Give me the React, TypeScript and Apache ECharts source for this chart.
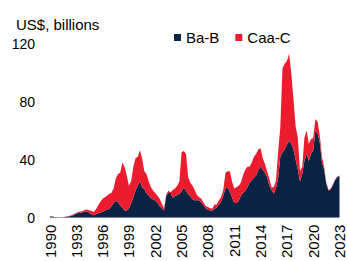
import React, { useEffect, useRef } from "react";
import * as echarts from "echarts";

const START_YEAR = 1990;
const END_YEAR = 2023;
const QUARTERS = ["Q1", "Q2", "Q3", "Q4"];

// Quarterly categories 1990 Q1 .. 2023 Q1
const categories: string[] = [];
for (let y = START_YEAR; y <= END_YEAR; y++) {
  for (const q of QUARTERS) {
    if (y === END_YEAR && q !== "Q1") break;
    categories.push(`${y} ${q}`);
  }
}

const seriesNames = ["Ba-B", "Caa-C"];

// US$ billions, quarterly
const baB: number[] = [
  0.8, 0.8, 0.4, 0.3, // 1990
  0.2, 0.2, 0.3, 0.4, // 1991
  0.7, 0.9, 1.3, 2.0, // 1992
  2.8, 3.2, 3.6, 3.7, // 1993
  4.3, 4.2, 3.2, 2.2, // 1994
  1.6, 2.5, 3.0, 3.5, // 1995
  4.0, 5.0, 5.5, 6.0, // 1996
  8.0, 10.0, 11.5, 11.0, // 1997
  8.5, 7.0, 5.0, 5.0, // 1998
  6.2, 10.0, 14.0, 18.7, // 1999
  22.0, 25.5, 21.0, 19.8, // 2000
  17.0, 15.3, 13.5, 12.5, // 2001
  11.8, 10.5, 8.0, 6.5, // 2002
  5.0, 15.0, 17.0, 17.0, // 2003
  13.5, 15.0, 15.5, 16.5, // 2004
  18.0, 21.0, 18.5, 16.0, // 2005
  15.0, 12.5, 12.0, 12.0, // 2006
  12.0, 10.5, 8.5, 6.5, // 2007
  5.5, 5.0, 5.0, 6.0, // 2008
  7.0, 9.0, 11.0, 15.0, // 2009
  20.0, 21.0, 18.0, 14.0, // 2010
  10.0, 10.0, 11.5, 15.0, // 2011
  17.0, 18.5, 21.0, 24.0, // 2012
  26.0, 27.5, 29.0, 33.0, // 2013
  35.0, 33.0, 31.0, 28.0, // 2014
  22.0, 19.0, 16.5, 20.0, // 2015
  27.0, 42.0, 45.0, 47.0, // 2016
  50.0, 53.0, 51.0, 47.0, // 2017
  40.0, 33.0, 25.0, 30.0, // 2018
  39.0, 44.0, 39.0, 44.0, // 2019
  46.0, 60.0, 58.0, 52.0, // 2020
  38.0, 33.0, 23.0, 18.5, // 2021
  19.5, 22.5, 26.0, 28.0, // 2022
  28.7, // 2023
];

const caaC: number[] = [
  0.2, 0.2, 0.1, 0.1, // 1990
  0.1, 0.1, 0.1, 0.2, // 1991
  0.3, 0.4, 0.5, 0.5, // 1992
  0.5, 0.6, 0.6, 0.9, // 1993
  1.2, 1.4, 1.8, 2.3, // 1994
  2.3, 3.5, 5.5, 7.5, // 1995
  9.0, 9.0, 9.5, 10.5, // 1996
  9.0, 10.0, 15.5, 19.0, // 1997
  22.5, 31.0, 30.0, 24.0, // 1998
  15.8, 15.0, 21.0, 22.3, // 1999
  20.0, 21.0, 20.0, 12.2, // 2000
  13.0, 9.7, 7.5, 6.2, // 2001
  5.2, 4.5, 5.0, 3.0, // 2002
  1.5, 1.0, 1.5, 0.5, // 2003
  5.5, 5.0, 6.5, 8.5, // 2004
  27.0, 25.0, 25.5, 12.0, // 2005
  9.0, 9.5, 7.0, 3.5, // 2006
  2.0, 2.5, 2.0, 1.5, // 2007
  1.8, 1.5, 1.2, 3.0, // 2008
  2.0, 3.0, 3.0, 4.0, // 2009
  11.0, 11.0, 14.0, 11.0, // 2010
  10.0, 11.0, 10.5, 9.0, // 2011
  12.0, 14.5, 14.0, 11.0, // 2012
  12.0, 14.5, 15.0, 14.0, // 2013
  13.0, 8.0, 6.0, 4.0, // 2014
  5.0, 2.0, 4.5, 5.0, // 2015
  18.0, 20.0, 58.0, 59.0, // 2016
  58.0, 60.0, 49.0, 35.0, // 2017
  23.0, 22.0, 7.0, 5.0, // 2018
  16.0, 16.0, 12.0, 10.0, // 2019
  9.0, 8.0, 8.0, 5.0, // 2020
  4.0, 2.0, 1.0, 0.5, // 2021
  0.5, 0.5, 0.3, 0.3, // 2022
  0.3, // 2023
];

const yTicks = { min: 0, max: 120, interval: 40 };
const yUnit = "US$, billions";

const NAVY = "#0b2343";
const RED = "#eb1c2e";
const FONT = 'Arial, "Liberation Sans", Helvetica, sans-serif';

export default function App() {
  const ref = useRef<HTMLDivElement>(null);

  useEffect(() => {
    if (!ref.current) return;
    const chart = echarts.init(ref.current, undefined, { renderer: "svg" });
    chart.setOption({
      animation: false,
      backgroundColor: "#ffffff",
      title: {
        text: yUnit,
        left: 11,
        top: 12,
        textStyle: { fontFamily: FONT, fontSize: 15, fontWeight: "normal", color: "#000" },
      },
      legend: {
        data: seriesNames,
        left: 169,
        top: 25,
        icon: "rect",
        itemWidth: 7,
        itemHeight: 7,
        itemGap: 16,
        textStyle: { fontFamily: FONT, fontSize: 15, color: "#000" },
      },
      grid: { left: 50, right: 5, top: 43.5, bottom: 42, containLabel: false },
      xAxis: {
        type: "category",
        data: categories,
        boundaryGap: false,
        axisLine: { show: false },
        axisTick: { show: false },
        axisLabel: {
          rotate: 90,
          margin: 7,
          fontFamily: FONT,
          fontSize: 15,
          color: "#000",
          interval: (index: number) => index % 12 === 0,
          formatter: (v: string) => v.split(" ")[0],
        },
      },
      yAxis: {
        type: "value",
        min: yTicks.min,
        max: yTicks.max,
        interval: yTicks.interval,
        axisLine: { show: false },
        axisTick: { show: false },
        splitLine: { show: false },
        axisLabel: { margin: 15, fontFamily: FONT, fontSize: 14, color: "#000" },
      },
      series: [
        {
          name: seriesNames[0],
          type: "line",
          stack: "total",
          data: baB,
          showSymbol: false,
          symbol: "none",
          lineStyle: { width: 0 },
          areaStyle: { color: NAVY, opacity: 1 },
          itemStyle: { color: NAVY },
        },
        {
          name: seriesNames[1],
          type: "line",
          stack: "total",
          data: caaC,
          showSymbol: false,
          symbol: "none",
          lineStyle: { width: 0 },
          areaStyle: { color: RED, opacity: 1 },
          itemStyle: { color: RED },
        },
      ],
    });
    return () => chart.dispose();
  }, []);

  return (
    <div
      ref={ref}
      style={{ position: "fixed", left: 0, top: 0, width: 347, height: 261 }}
    />
  );
}
